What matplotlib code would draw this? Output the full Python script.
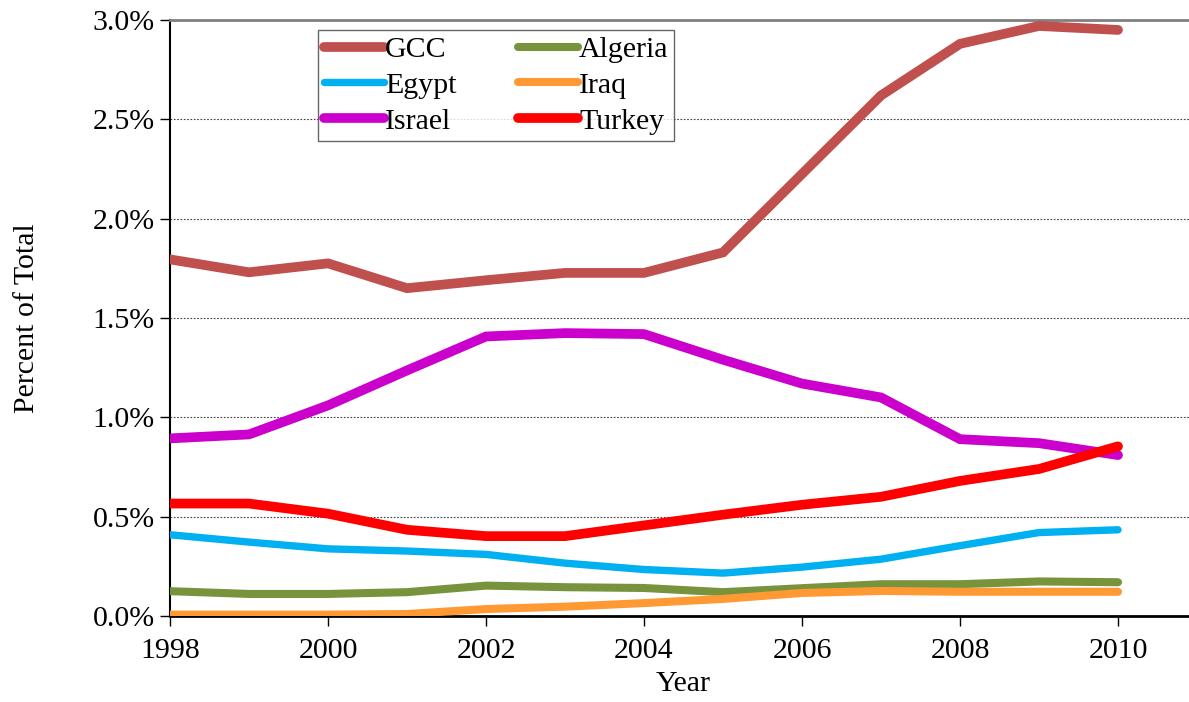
import numpy as np
import matplotlib
matplotlib.use("Agg")
import matplotlib.pyplot as plt
from matplotlib.ticker import FuncFormatter

years = list(range(1998, 2011))

gcc = [1.795, 1.73, 1.775, 1.65, 1.69, 1.727, 1.727, 1.83, 2.225, 2.62, 2.88, 2.97, 2.95]
algeria = [0.125, 0.111, 0.111, 0.12, 0.153, 0.145, 0.141, 0.12, 0.14, 0.16, 0.16, 0.174, 0.17]
egypt = [0.409, 0.372, 0.338, 0.327, 0.31, 0.266, 0.234, 0.216, 0.246, 0.286, 0.354, 0.42, 0.434]
iraq = [0.007, 0.007, 0.007, 0.01, 0.035, 0.047, 0.065, 0.086, 0.116, 0.126, 0.122, 0.122, 0.122]
israel = [0.894, 0.914, 1.06, 1.236, 1.407, 1.424, 1.419, 1.29, 1.17, 1.10, 0.89, 0.87, 0.81]
turkey = [0.566, 0.566, 0.515, 0.434, 0.402, 0.402, 0.456, 0.51, 0.56, 0.60, 0.68, 0.74, 0.854]

# legend order is row-wise in a 2-column legend
series = [
    ("GCC", gcc, "#C0504D", 7.0),
    ("Egypt", egypt, "#00B0F0", 5.3),
    ("Israel", israel, "#CC00CC", 7.0),
    ("Algeria", algeria, "#77933C", 5.8),
    ("Iraq", iraq, "#FF9933", 5.8),
    ("Turkey", turkey, "#FF0000", 7.0),
]

plt.rcParams['font.family'] = ['Liberation Serif', 'DejaVu Serif']
fs = 21.5

fig = plt.figure(figsize=(11.89, 7.02), dpi=100)
left = 170 / 1189
bottom = 86 / 702
width = (1197 - 170) / 1189
height = (616 - 20) / 702
ax = fig.add_axes([left, bottom, width, height])

for name, vals, col, lw in series:
    ax.plot(years, vals, color=col, lw=lw, label=name, solid_capstyle="round",
            solid_joinstyle="miter", zorder=3)

ax.set_xlim(1998, 2011)
ax.set_ylim(0, 3.0)
ax.set_xticks(range(1998, 2011, 2))
ax.set_yticks(np.arange(0, 3.01, 0.5))
ax.yaxis.set_major_formatter(FuncFormatter(lambda v, p: f"{v:.1f}%"))
ax.tick_params(axis="both", labelsize=fs, direction="out", length=7, width=1, colors="black")
ax.tick_params(axis="x", pad=9)
ax.tick_params(axis="y", pad=4)

ax.grid(axis="y", linestyle=(0, (1.5, 1.5)), color="#404040", lw=0.8, zorder=0)

ax.spines["top"].set_color("#808080")
ax.spines["top"].set_linewidth(2)
ax.spines["right"].set_visible(False)
ax.spines["left"].set_linewidth(1.5)
ax.spines["bottom"].set_linewidth(2)

ax.set_xlabel("Year", fontsize=fs, labelpad=5)
ax.set_ylabel("Percent of Total", fontsize=fs, labelpad=38)

leg = ax.legend(ncol=2, loc="upper left", bbox_to_anchor=(0.144, 0.983), fontsize=fs,
                frameon=True, fancybox=False, edgecolor="#404040", handlelength=2.0,
                handletextpad=0.05, columnspacing=2.05, labelspacing=0.3,
                borderpad=0.2, borderaxespad=0)
leg.get_frame().set_linewidth(1)

fig.savefig("out.png", dpi=100)
